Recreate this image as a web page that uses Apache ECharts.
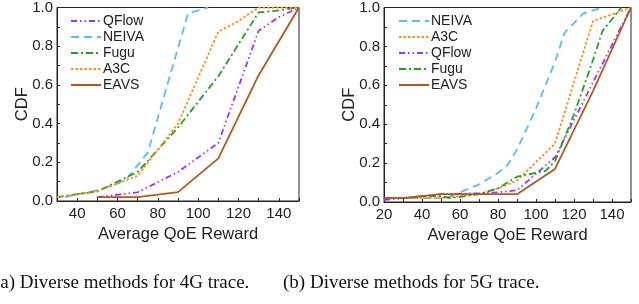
<!DOCTYPE html>
<html>
<head>
<meta charset="utf-8">
<script src="https://cdn.jsdelivr.net/npm/echarts@6/dist/echarts.min.js"></script>
<style>
html, body { margin: 0; padding: 0; background: #fff; }
#chart { width: 639px; height: 304px; }
</style>
</head>
<body>
<div id="chart"></div>
<script>
// 4G trace (left)
var qflow4x = [50, 70, 90, 110, 130, 140, 150];
var qflow4y = [0.02, 0.045, 0.15, 0.30, 0.88, 0.95, 1.0];
var neiva4x = [34, 40, 50, 60, 65, 75, 95, 105];
var neiva4y = [0.02, 0.035, 0.055, 0.09, 0.12, 0.25, 0.97, 1.0];
var fugu4x = [30, 40, 50, 60, 70, 90, 110, 130, 140, 150];
var fugu4y = [0.02, 0.035, 0.05, 0.10, 0.15, 0.38, 0.645, 0.975, 0.985, 1.0];
var a3c4x = [30, 40, 50, 60, 70, 90, 110, 120, 130, 150];
var a3c4y = [0.02, 0.035, 0.05, 0.09, 0.13, 0.40, 0.875, 0.93, 1.0, 1.0];
var eavs4x = [50, 70, 90, 110, 130, 150];
var eavs4y = [0.02, 0.02, 0.046, 0.22, 0.65, 1.0];

// 5G trace (right)
var neiva5x = [20, 30, 40, 50, 55, 60, 70, 80, 85, 90, 100, 110, 115, 120, 125, 135];
var neiva5y = [0.02, 0.02, 0.02, 0.02, 0.03, 0.05, 0.09, 0.15, 0.19, 0.27, 0.48, 0.72, 0.87, 0.92, 0.97, 1.0];
var a3c5x = [20, 30, 40, 50, 60, 70, 80, 90, 110, 130, 150];
var a3c5y = [0.02, 0.02, 0.02, 0.02, 0.03, 0.04, 0.07, 0.11, 0.30, 0.93, 1.0];
var qflow5x = [20, 30, 50, 70, 80, 90, 110, 150];
var qflow5y = [0.01, 0.02, 0.04, 0.045, 0.05, 0.06, 0.23, 1.0];
var fugu5x = [20, 30, 40, 50, 55, 70, 80, 90, 100, 105, 110, 120, 130, 135, 145];
var fugu5y = [0.02, 0.02, 0.03, 0.03, 0.02, 0.04, 0.07, 0.13, 0.15, 0.16, 0.21, 0.45, 0.73, 0.88, 1.0];
var eavs5x = [20, 30, 50, 90, 110, 130, 150];
var eavs5y = [0.02, 0.02, 0.04, 0.04, 0.17, 0.57, 1.0];

var legend4 = ['QFlow', 'NEIVA', 'Fugu', 'A3C', 'EAVS'];
var legend5 = ['NEIVA', 'A3C', 'QFlow', 'Fugu', 'EAVS'];

var colors = {
	QFlow: '#9b30ff',
	NEIVA: '#5bbcf5',
	Fugu: '#22a022',
	A3C: '#ff8c1a',
	EAVS: '#b5561e'
};
var dashes = {
	QFlow: [6, 3, 1.5, 3, 1.5, 3],
	NEIVA: [8, 5],
	Fugu: [7, 3, 2, 3],
	A3C: [2.5, 2],
	EAVS: 'solid'
};

function pairs(xs, ys) {
	return xs.map(function(x, i) { return [x, ys[i]]; });
}

function line(name, xs, ys, idx) {
	return {
		name: name,
		type: 'line',
		xAxisIndex: idx,
		yAxisIndex: idx,
		symbol: 'none',
		animation: false,
		lineStyle: { color: colors[name], width: 1.8, type: dashes[name] },
		itemStyle: { color: colors[name] },
		data: pairs(xs, ys)
	};
}

var axisFont = { fontFamily: 'Liberation Sans, Arial', fontSize: 15, color: '#222' };

function xAxis(idx, min) {
	return {
		gridIndex: idx,
		type: 'value',
		min: min,
		max: 150,
		interval: 10,
		name: 'Average QoE Reward',
		nameLocation: 'middle',
		nameGap: 25,
		nameMoveOverlap: false,
		nameTextStyle: { fontFamily: 'Liberation Sans, Arial', fontSize: 16.5, color: '#222' },
		axisLine: { lineStyle: { color: '#222', width: 1 } },
		axisTick: { inside: true, length: 3, lineStyle: { color: '#222' } },
		axisLabel: Object.assign({
			margin: 5,
			showMaxLabel: true,
			formatter: function(v) { return v % 20 === 0 ? String(v) : ''; }
		}, axisFont),
		splitLine: { show: false }
	};
}

function yAxis(idx) {
	return {
		gridIndex: idx,
		type: 'value',
		min: 0,
		max: 1,
		interval: 0.1,
		name: 'CDF',
		nameLocation: 'middle',
		nameGap: 26,
		nameMoveOverlap: false,
		nameTextStyle: { fontFamily: 'Liberation Sans, Arial', fontSize: 16.5, color: '#222' },
		axisLine: { show: true, lineStyle: { color: '#222', width: 1 } },
		axisTick: { inside: true, length: 3, lineStyle: { color: '#222' } },
		axisLabel: Object.assign({
			margin: 4,
			formatter: function(v) { return Math.round(v * 10) % 2 === 0 ? v.toFixed(1) : ''; }
		}, axisFont),
		splitLine: { show: false }
	};
}

function legend(names, left) {
	return {
		data: names,
		orient: 'vertical',
		left: left,
		top: 9,
		itemWidth: 30,
		itemHeight: 10,
		itemGap: 2,
		selectedMode: false,
		itemStyle: { opacity: 0 },
		textStyle: { fontFamily: 'Liberation Sans, Arial', fontSize: 14, color: '#222', padding: [0, 0, 0, -3] }
	};
}

var series = [];
legend4.forEach(function(n) {
	var m = { QFlow: [qflow4x, qflow4y], NEIVA: [neiva4x, neiva4y], Fugu: [fugu4x, fugu4y], A3C: [a3c4x, a3c4y], EAVS: [eavs4x, eavs4y] };
	series.push(line(n, m[n][0], m[n][1], 0));
});
legend5.forEach(function(n) {
	var m = { QFlow: [qflow5x, qflow5y], NEIVA: [neiva5x, neiva5y], Fugu: [fugu5x, fugu5y], A3C: [a3c5x, a3c5y], EAVS: [eavs5x, eavs5y] };
	series.push(line(n, m[n][0], m[n][1], 1));
});

var chart = echarts.init(document.getElementById('chart'));
chart.setOption({
	backgroundColor: '#fff',
	animation: false,
	grid: [
		{ left: 57, right: 340, top: 7, bottom: 103, show: true, borderColor: '#222', borderWidth: 1 },
		{ left: 384, right: 8, top: 7, bottom: 102, show: true, borderColor: '#222', borderWidth: 1 }
	],
	legend: [legend(legend4, 65), legend(legend5, 393)],
	xAxis: [xAxis(0, 30), xAxis(1, 20)],
	yAxis: [yAxis(0), yAxis(1)],
	series: series,
	graphic: [
		{ type: 'text', left: -6, top: 274, style: { text: '(a) Diverse methods for 4G trace.', font: '19px "Liberation Serif", "Times New Roman", serif', fill: '#111' } },
		{ type: 'text', left: 283, top: 274, style: { text: '(b) Diverse methods for 5G trace.', font: '19px "Liberation Serif", "Times New Roman", serif', fill: '#111' } }
	]
});
</script>
</body>
</html>
